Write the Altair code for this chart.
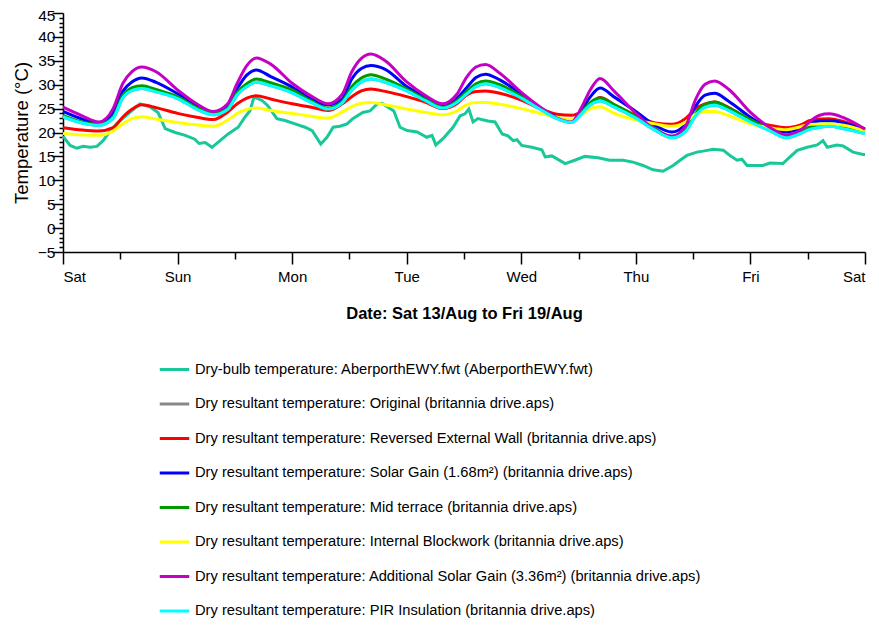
import altair as alt
import pandas as pd

# ---------------- data (hours since Sat 13/Aug 00:00) ----------------
hours = [0, 4, 7.5, 10.5, 12.5, 14.5, 16.5, 19.5,
         24, 28, 31.5, 34.5, 36.5, 38.5, 40.5, 43.5,
         48, 52, 55.5, 58.5, 60.5, 62.5, 64.5, 67.5,
         72, 76, 79.5, 82.5, 84.5, 86.5, 88.5, 91.5,
         96, 100, 103.5, 106.5, 108.5, 110.5, 112.5, 115.5,
         120, 124, 127.5, 130.5, 132.5, 134.5, 136.5, 139.5,
         144, 148, 151.5, 154.5, 156.5, 158.5, 160.5, 163.5, 168]

drybulb_hours = [0.0, 1.5, 2.9, 4.2, 5.7, 7.1, 8.4, 9.8, 11.3, 14.0, 16.1, 18.2, 19.9, 21.4, 23.5,
                 25.6, 27.6, 28.5, 29.8, 31.2, 32.9, 34.6, 36.7, 38.1, 39.2, 40.0, 41.7, 42.9, 44.8,
                 46.5, 48.6, 50.7, 52.2, 54.0, 55.3, 56.6, 58.0, 59.5, 60.7, 62.8, 64.3, 65.8, 66.8,
                 68.1, 69.3, 70.6, 72.1, 74.2, 76.2, 77.3, 78.1, 79.6, 81.7, 83.2, 84.2, 85.0, 85.9,
                 86.9, 89.0, 90.5, 92.0, 93.2, 94.3, 95.1, 96.1, 98.2, 100.3, 101.0, 102.4, 105.2,
                 107.2, 109.3, 112.1, 114.5, 117.3, 119.4, 121.5, 123.6, 125.7, 127.8, 129.7, 130.7,
                 132.8, 134.1, 136.2, 138.3, 139.7, 141.2, 142.2, 143.3, 146.6, 148.1, 150.8, 152.3,
                 153.8, 155.9, 158.0, 159.2, 160.1, 162.1, 163.4, 165.5, 167.6, 168.0]
drybulb = [19.2, 17.3, 16.7, 17.1, 16.9, 17.1, 18.3, 20.2, 21.9, 24.2, 26.0, 25.4, 24.2, 20.8, 20.0,
           19.4, 18.6, 17.7, 17.9, 16.9, 18.3, 19.7, 21.1, 23.2, 24.6, 27.4, 26.7, 25.6, 22.9,
           22.5, 21.8, 21.1, 20.4, 17.6, 19.0, 21.1, 21.3, 21.8, 22.9, 24.2, 24.5, 26.0, 26.1,
           25.3, 24.5, 21.1, 20.4, 20.1, 19.0, 19.4, 17.4, 18.7, 21.1, 23.5, 23.9, 24.9, 22.2,
           22.9, 22.4, 22.2, 19.7, 19.3, 18.3, 18.5, 17.3, 16.9, 16.4, 14.9, 15.1, 13.5,
           14.2, 15.0, 14.7, 14.2, 14.2, 13.8, 13.1, 12.2, 11.9, 13.1, 14.5, 15.2,
           15.9, 16.1, 16.5, 16.3, 15.2, 14.2, 14.4, 13.1, 13.1, 13.6, 13.5, 14.9,
           16.25, 16.9, 17.4, 18.3, 16.9, 17.4, 17.2, 15.9, 15.4, 15.4]

original = [23.3, 22.0, 21.5, 23.0, 27.2, 28.8, 29.2, 28.5,
            27.1, 24.9, 23.7, 24.8, 27.9, 29.6, 30.5, 29.8,
            28.3, 26.3, 24.9, 26.2, 28.9, 30.6, 31.2, 30.5,
            28.7, 26.6, 25.1, 26.3, 28.0, 29.6, 30.2, 29.4,
            27.2, 24.8, 22.9, 22.1, 23.8, 25.8, 26.6, 25.3,
            23.0, 20.5, 18.9, 20.3, 23.5, 25.3, 25.7, 24.6,
            22.2, 20.4, 18.9, 19.8, 20.7, 21.1, 21.3, 20.8, 19.8]
reversed_wall = [21.0, 20.5, 20.3, 21.0, 23.2, 24.9, 25.8, 25.2,
                 24.0, 23.2, 22.7, 24.3, 26.0, 27.2, 27.7, 27.0,
                 26.0, 25.3, 24.6, 26.0, 27.5, 28.7, 29.1, 28.6,
                 27.5, 26.3, 25.0, 26.0, 27.8, 28.6, 28.7, 28.2,
                 26.8, 25.0, 23.8, 23.6, 24.3, 26.0, 27.3, 25.8,
                 23.6, 22.0, 21.7, 23.0, 25.0, 26.0, 26.4, 25.2,
                 22.5, 21.5, 21.0, 21.6, 22.5, 22.8, 22.9, 22.3, 20.8]
solar_gain = [24.4, 22.8, 21.9, 24.2, 28.6, 30.6, 31.4, 30.5,
              28.1, 25.6, 24.2, 25.6, 29.2, 32.0, 33.1, 31.7,
              29.5, 27.0, 25.8, 27.0, 31.2, 33.4, 34.0, 33.2,
              29.6, 27.3, 25.8, 27.2, 29.3, 31.5, 32.2, 31.0,
              28.0, 25.0, 23.2, 22.3, 24.5, 27.5, 29.3, 27.4,
              24.4, 21.5, 20.1, 21.8, 25.5, 27.8, 28.2, 26.5,
              23.2, 20.8, 20.1, 20.9, 21.9, 22.4, 22.5, 22.0, 20.5]
mid_terrace = [23.6, 22.2, 21.7, 23.3, 27.7, 29.4, 29.8, 29.0,
               27.5, 25.2, 23.9, 25.1, 28.4, 30.2, 31.2, 30.4,
               28.9, 26.6, 25.1, 26.5, 29.6, 31.4, 32.1, 31.2,
               29.1, 26.9, 25.3, 26.6, 28.5, 30.2, 30.8, 30.0,
               27.6, 25.1, 23.1, 22.3, 24.1, 26.3, 27.2, 25.8,
               23.4, 20.8, 19.2, 20.6, 24.0, 25.9, 26.4, 25.1,
               22.7, 20.7, 19.3, 20.2, 21.2, 21.6, 21.8, 21.3, 20.2]
internal_blockwork = [19.8, 19.5, 19.4, 20.3, 21.8, 22.9, 23.3, 22.8,
                      22.1, 21.6, 21.3, 22.6, 24.0, 24.8, 25.1, 24.6,
                      24.0, 23.4, 23.0, 24.3, 25.4, 26.1, 26.3, 25.8,
                      24.9, 24.2, 23.7, 24.5, 25.8, 26.3, 26.3, 25.9,
                      25.0, 24.0, 23.2, 22.6, 23.6, 25.0, 25.4, 24.0,
                      22.6, 21.8, 21.3, 22.2, 23.8, 24.4, 24.4, 23.5,
                      21.8, 21.0, 20.6, 21.2, 21.7, 21.8, 21.8, 21.5, 20.3]
additional_solar = [25.3, 23.5, 22.2, 25.0, 30.2, 32.8, 33.7, 32.7,
                    28.9, 26.0, 24.4, 26.0, 30.3, 34.0, 35.6, 34.3,
                    30.3, 27.6, 26.0, 28.0, 32.7, 35.5, 36.4, 35.0,
                    30.6, 27.7, 26.0, 28.0, 31.5, 33.7, 34.2, 32.4,
                    28.4, 25.3, 23.0, 22.2, 25.0, 29.0, 31.3, 28.6,
                    24.0, 20.6, 19.2, 21.5, 26.9, 30.1, 30.8, 29.0,
                    24.2, 21.1, 19.5, 20.5, 22.3, 23.6, 23.9, 23.1, 20.7]
pir_insulation = [23.3, 22.0, 21.5, 23.0, 27.2, 28.8, 29.2, 28.5,
                  27.1, 24.9, 23.7, 24.8, 27.9, 29.6, 30.5, 29.8,
                  28.3, 26.3, 24.9, 26.2, 28.9, 30.6, 31.2, 30.5,
                  28.7, 26.6, 25.1, 26.3, 28.0, 29.6, 30.2, 29.4,
                  27.2, 24.8, 22.9, 22.1, 23.8, 25.8, 26.6, 25.3,
                  23.0, 20.5, 18.9, 20.3, 23.5, 25.3, 25.7, 24.6,
                  22.2, 20.4, 18.9, 19.8, 20.7, 21.1, 21.3, 20.8, 19.8]

series_names = [
    "Dry-bulb temperature: AberporthEWY.fwt (AberporthEWY.fwt)",
    "Dry resultant temperature: Original (britannia drive.aps)",
    "Dry resultant temperature: Reversed External Wall (britannia drive.aps)",
    "Dry resultant temperature: Solar Gain (1.68m\u00b2) (britannia drive.aps)",
    "Dry resultant temperature: Mid terrace (britannia drive.aps)",
    "Dry resultant temperature: Internal Blockwork (britannia drive.aps)",
    "Dry resultant temperature: Additional Solar Gain (3.36m\u00b2) (britannia drive.aps)",
    "Dry resultant temperature: PIR Insulation (britannia drive.aps)",
]
series_colors = ["#18C898", "#888888", "#FF0000", "#0000FF", "#009900", "#FFFF00", "#C400C4", "#00FFFF"]
day_labels = ["Sat", "Sun", "Mon", "Tue", "Wed", "Thu", "Fri", "Sat"]

series_data = [
    (drybulb_hours, drybulb),
    (hours, original),
    (hours, reversed_wall),
    (hours, solar_gain),
    (hours, mid_terrace),
    (hours, internal_blockwork),
    (hours, additional_solar),
    (hours, pir_insulation),
]

rows = []
for name, (hs, vs) in zip(series_names, series_data):
    for h, v in zip(hs, vs):
        rows.append({"series": name, "hour": h, "temp": v})
df = pd.DataFrame(rows)

FONT = "Liberation Sans"

x_enc = alt.X(
    "hour:Q",
    scale=alt.Scale(domain=[0, 168], nice=False, zero=False),
    axis=alt.Axis(
        values=list(range(0, 169, 12)),
        labelExpr="datum.value % 24 === 0 ? " + str(day_labels) + "[datum.value / 24] : ''",
        tickSize={"condition": {"test": "datum.value % 24 === 0", "value": 12}, "value": 7},
        labelPadding=5,
        labelFontSize=15,
        labelOverlap=False,
        title="Date: Sat 13/Aug to Fri 19/Aug",
        titleFontSize=16.5,
        titleFontWeight="bold",
        titlePadding=21,
    ),
)
y_enc = alt.Y(
    "temp:Q",
    scale=alt.Scale(domain=[-5, 45], nice=False, zero=False),
    axis=alt.Axis(
        values=list(range(-5, 46)),
        labelExpr="datum.value % 5 === 0 ? datum.label : ''",
        tickSize={"condition": {"test": "datum.value % 5 === 0", "value": 11}, "value": 4},
        labelOffset={"condition": {"test": "datum.value === 45", "value": 2}, "value": 0},
        labelPadding=-3,
        labelFontSize=15.5,
        labelOverlap=False,
        title="Temperature (\u00b0C)",
        titleFontSize=18.5,
        titleFontWeight="normal",
        titlePadding=6,
    ),
)
color_enc = alt.Color(
    "series:N",
    scale=alt.Scale(domain=series_names, range=series_colors),
    legend=alt.Legend(
        orient="none",
        legendX=95,
        legendY=340,
        title=None,
        symbolType="stroke",
        symbolSize=870,
        symbolStrokeWidth=3,
        labelFontSize=14.7,
        labelFont=FONT,
        labelLimit=800,
        rowPadding=10.5,
        labelOffset=4,
    ),
)

base = alt.Chart(df).encode(x=x_enc, y=y_enc, color=color_enc)
layers = []
for i, name in enumerate(series_names):
    layers.append(
        base.transform_filter(alt.datum.series == name).mark_line(
            strokeWidth=3, interpolate="linear" if i == 0 else "monotone"
        )
    )

chart = (
    alt.layer(*layers)
    .properties(
        width=802,
        height=239,
        autosize=alt.AutoSizeParams(type="none"),
        padding={"left": 55, "top": 5, "right": 6, "bottom": 367},
    )
    .configure_view(stroke=None)
    .configure_axis(
        grid=False,
        domainColor="black",
        domainWidth=1.5,
        tickColor="black",
        tickWidth=1.5,
        labelColor="black",
        titleColor="black",
        labelFont=FONT,
        titleFont=FONT,
    )
)

chart.save("out.html", embed_options={"renderer": "svg", "actions": False})
